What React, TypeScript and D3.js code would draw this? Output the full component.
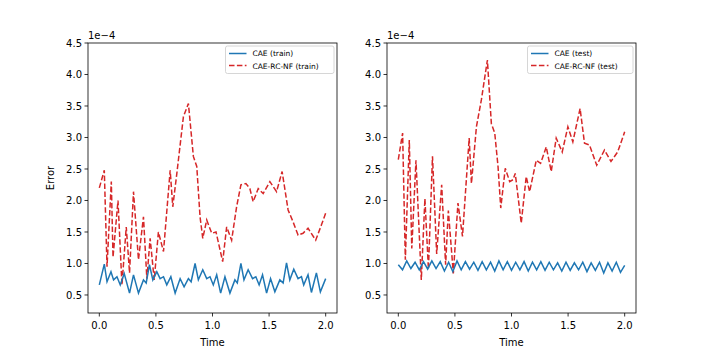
import React from 'react';
import * as d3 from 'd3';

// [time, error x1e-4]
const caeTrain: [number, number][] = [
  [0, 0.66], [0.044, 0.99], [0.068, 0.71], [0.103, 0.87], [0.126, 0.74], [0.156, 0.79],
  [0.185, 0.66], [0.22, 0.84], [0.267, 0.53], [0.302, 0.82], [0.346, 0.53], [0.39, 0.74],
  [0.414, 0.69], [0.443, 0.98], [0.473, 0.74], [0.508, 0.87], [0.537, 0.76], [0.567, 0.79],
  [0.596, 0.66], [0.632, 0.79], [0.67, 0.53], [0.714, 0.76], [0.749, 0.63], [0.787, 0.76],
  [0.811, 0.71], [0.846, 1.0], [0.875, 0.74], [0.914, 0.9], [0.949, 0.76], [0.978, 0.79],
  [1.007, 0.66], [1.037, 0.82], [1.072, 0.53], [1.11, 0.79], [1.154, 0.53], [1.198, 0.74],
  [1.219, 0.69], [1.251, 1.0], [1.278, 0.74], [1.315, 0.9], [1.354, 0.76], [1.383, 0.79],
  [1.412, 0.66], [1.442, 0.82], [1.478, 0.53], [1.513, 0.76], [1.551, 0.55], [1.595, 0.74],
  [1.624, 0.69], [1.654, 1.01], [1.683, 0.74], [1.718, 0.91], [1.756, 0.76], [1.786, 0.79],
  [1.806, 0.66], [1.844, 0.82], [1.874, 0.54], [1.918, 0.85], [1.953, 0.55], [2.0, 0.76],
];

const rcnfTrain: [number, number][] = [
  [0, 2.2], [0.044, 2.48], [0.068, 0.95], [0.106, 2.3], [0.121, 1.1], [0.165, 2.0],
  [0.2, 0.66], [0.238, 1.58], [0.267, 0.85], [0.302, 2.14], [0.346, 1.06], [0.39, 1.74],
  [0.42, 0.76], [0.449, 1.4], [0.485, 0.74], [0.522, 1.5], [0.567, 1.19], [0.626, 2.48],
  [0.649, 1.9], [0.685, 2.43], [0.743, 3.33], [0.787, 3.54], [0.831, 2.7], [0.861, 2.54],
  [0.89, 1.74], [0.914, 1.4], [0.949, 1.69], [0.993, 1.48], [1.031, 1.5], [1.09, 1.03],
  [1.125, 1.58], [1.169, 1.37], [1.213, 1.9], [1.251, 2.25], [1.295, 2.27], [1.33, 2.19],
  [1.359, 1.98], [1.404, 2.19], [1.448, 2.11], [1.507, 2.3], [1.566, 2.14], [1.615, 2.46],
  [1.668, 1.85], [1.712, 1.66], [1.756, 1.45], [1.8, 1.48], [1.844, 1.56], [1.912, 1.37],
  [1.962, 1.61], [2.0, 1.8],
];

// test CAE, evenly sampled over [0, 2]
const caeTestValues = [
  0.98, 0.9, 1.04, 0.92, 1.02, 0.9, 1.03, 0.91, 1.04, 0.92, 1.03, 0.88, 1.02, 0.87,
  1.04, 0.9, 1.03, 0.91, 1.02, 0.89, 1.03, 0.9, 1.02, 0.88, 1.04, 0.9, 1.03, 0.89,
  1.02, 0.9, 1.03, 0.88, 1.02, 0.9, 1.03, 0.89, 1.02, 0.9, 1.01, 0.88, 1.02, 0.89,
  1.01, 0.9, 1.02, 0.87, 1.01, 0.89, 1.02, 0.85, 1.01, 0.88, 1.02, 0.86, 0.97,
];

const rcnfTest: [number, number][] = [
  [0, 2.65], [0.038, 3.07], [0.062, 1.06], [0.097, 2.96], [0.119, 1.24], [0.156, 2.64],
  [0.203, 0.74], [0.235, 2.03], [0.266, 0.91], [0.302, 2.7], [0.339, 1.15], [0.383, 2.25],
  [0.418, 0.98], [0.442, 1.84], [0.486, 0.84], [0.527, 1.96], [0.567, 1.43], [0.626, 2.99],
  [0.646, 2.27], [0.69, 3.17], [0.734, 3.6], [0.787, 4.23], [0.822, 3.22], [0.852, 3.07],
  [0.881, 2.54], [0.905, 1.88], [0.945, 2.51], [0.984, 2.3], [1.013, 2.33], [1.033, 2.43],
  [1.086, 1.64], [1.13, 2.38], [1.16, 2.14], [1.219, 2.64], [1.257, 2.59], [1.307, 2.85],
  [1.351, 2.46], [1.395, 2.99], [1.448, 2.77], [1.498, 3.17], [1.542, 2.93], [1.606, 3.46],
  [1.645, 2.91], [1.689, 2.88], [1.753, 2.56], [1.821, 2.8], [1.879, 2.62], [1.938, 2.77],
  [2.0, 3.09],
];

const xTicks = [0, 0.5, 1.0, 1.5, 2.0];
const yTicks = [0.5, 1.0, 1.5, 2.0, 2.5, 3.0, 3.5, 4.0, 4.5];

const BLUE = '#1f77b4';
const RED = '#d62728';
const FONT = 'DejaVu Sans, sans-serif';

const top = 43;
const bottom = 313;
const axW = 249;

type PanelProps = {
  left: number;
  blue: [number, number][];
  red: [number, number][];
  labels: [string, string];
  legendX: number;
  showYLabel: boolean;
};

const Panel = ({ left, blue, red, labels, legendX, showYLabel }: PanelProps) => {
  const x = d3.scaleLinear().domain([-0.1, 2.1]).range([left, left + axW]);
  const y = d3.scaleLinear().domain([0.214, 4.5]).range([bottom, top]);
  const line = d3.line<[number, number]>().x((d) => x(d[0])).y((d) => y(d[1]));

  const legendW = left + axW - 3 - legendX;
  return (
    <g fontFamily={FONT}>
      <path d={line(red) || ''} fill="none" stroke={RED} strokeWidth={1.5} strokeDasharray="5.5,2.4" />
      <path d={line(blue) || ''} fill="none" stroke={BLUE} strokeWidth={1.5} />
      <rect x={left} y={top} width={axW} height={bottom - top} fill="none" stroke="#000" strokeWidth={0.8} />
      {xTicks.map((t) => (
        <g key={t}>
          <line x1={x(t)} x2={x(t)} y1={bottom} y2={bottom + 3.5} stroke="#000" strokeWidth={0.8} />
          <text x={x(t)} y={bottom + 16} textAnchor="middle" fontSize={10}>{t.toFixed(1)}</text>
        </g>
      ))}
      {yTicks.map((t) => (
        <g key={t}>
          <line x1={left - 3.5} x2={left} y1={y(t)} y2={y(t)} stroke="#000" strokeWidth={0.8} />
          <text x={left - 6} y={y(t) + 3.6} textAnchor="end" fontSize={10}>{t.toFixed(1)}</text>
        </g>
      ))}
      <text x={left} y={39} fontSize={10}>1e−4</text>
      <text x={left + axW / 2} y={346} textAnchor="middle" fontSize={10}>Time</text>
      {showYLabel && (
        <text transform={`translate(${left - 34},${(top + bottom) / 2}) rotate(-90)`} textAnchor="middle" fontSize={10}>Error</text>
      )}
      {/* legend */}
      <rect x={legendX} y={46} width={legendW} height={27.5} rx={2} fill="#fff" fillOpacity={0.8} stroke="#ccc" strokeWidth={0.8} />
      <line x1={legendX + 3.5} x2={legendX + 21} y1={53.5} y2={53.5} stroke={BLUE} strokeWidth={1.5} />
      <line x1={legendX + 3.5} x2={legendX + 21} y1={65.5} y2={65.5} stroke={RED} strokeWidth={1.5} strokeDasharray="5.5,2.4" />
      <text x={legendX + 27} y={56} fontSize={7.5}>{labels[0]}</text>
      <text x={legendX + 27} y={68.5} fontSize={7.5}>{labels[1]}</text>
    </g>
  );
};

const App = () => {
  const caeTest: [number, number][] = caeTestValues.map((v, i) => [(2 * i) / (caeTestValues.length - 1), v]);
  return (
    <div style={{ position: 'absolute', left: 0, top: 0 }}>
      <svg width={706} height={353} style={{ display: 'block', background: '#fff' }}>
        <Panel left={88} blue={caeTrain} red={rcnfTrain} labels={['CAE (train)', 'CAE-RC-NF (train)']} legendX={225.5} showYLabel />
        <Panel left={387} blue={caeTest} red={rcnfTest} labels={['CAE (test)', 'CAE-RC-NF (test)']} legendX={527.5} showYLabel={false} />
      </svg>
    </div>
  );
};

export default App;
